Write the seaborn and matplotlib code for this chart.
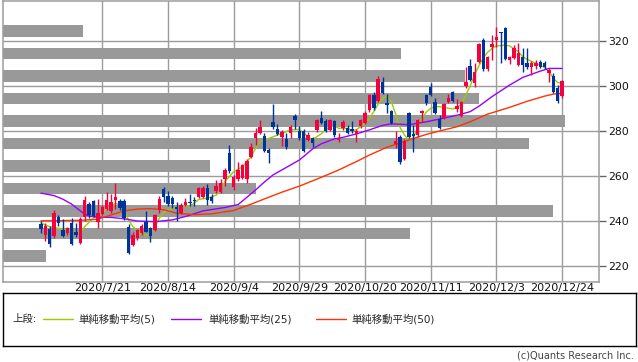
import numpy as np
import pandas as pd
import matplotlib
matplotlib.use("Agg")
import matplotlib.pyplot as plt
import seaborn as sns

# x-axis labels (trading day index -> date label)
tick_days = [14, 29, 44, 59, 74, 89, 104, 119]
tick_labels = ["2020/7/21", "2020/8/14", "2020/9/4", "2020/9/29",
               "2020/10/20", "2020/11/11", "2020/12/3", "2020/12/24"]

# daily candles, 2020/7/1 .. 2020/12/24 (120 trading days)
opens = [238.8, 233.8, 236.5, 233.5, 241.8, 236.0, 234.5, 239.0, 235.3, 230.4,
         241.8, 247.5, 248.9, 239.5, 243.0, 245.5, 244.5, 249.3, 248.8, 249.0,
         237.5, 229.5, 232.3, 234.8, 239.7, 236.8, 236.0, 245.0, 254.3, 251.0,
         250.4, 246.2, 243.7, 247.1, 248.3, 249.3, 250.8, 250.8, 254.5, 250.8,
         253.3, 253.0, 258.5, 270.4, 255.3, 258.5, 259.0, 258.5, 268.6, 276.7,
         279.3, 277.8, 271.6, 284.1, 280.7, 277.5, 276.3, 279.3, 286.7, 280.0,
         280.0, 276.0, 276.7, 280.4, 285.6, 284.6, 280.4, 284.6, 276.0, 281.2,
         281.2, 280.8, 278.7, 282.2, 283.4, 289.3, 296.0, 293.5, 301.7, 292.3,
         288.9, 274.1, 277.5, 267.6, 287.9, 278.5, 278.0, 288.0, 296.0, 299.7,
         293.0, 285.3, 285.9, 293.0, 297.2, 289.8, 286.8, 300.0, 308.8, 301.2,
         310.8, 320.4, 307.4, 317.2, 320.4, 323.9, 325.6, 311.5, 312.3, 309.5,
         313.0, 310.1, 308.6, 308.9, 310.8, 310.4, 305.6, 304.4, 299.0, 295.6]
highs = [239.8, 239.0, 238.0, 245.0, 242.8, 241.0, 237.5, 241.5, 239.0, 241.6,
         251.0, 248.5, 249.5, 250.0, 247.0, 253.0, 252.0, 257.0, 250.0, 249.8,
         238.5, 235.0, 236.5, 238.5, 244.5, 237.5, 243.0, 251.0, 255.0, 253.5,
         251.0, 248.6, 247.8, 250.2, 252.0, 250.5, 255.0, 255.5, 256.5, 252.0,
         258.2, 258.5, 263.5, 273.8, 260.5, 266.4, 265.5, 267.5, 274.5, 281.2,
         284.9, 279.0, 272.5, 292.0, 283.0, 280.5, 279.0, 282.5, 287.5, 282.0,
         281.0, 279.5, 277.5, 285.5, 289.0, 285.5, 285.5, 285.0, 279.0, 285.0,
         282.5, 284.5, 281.0, 285.5, 289.0, 296.5, 297.5, 304.5, 304.0, 296.3,
         289.5, 280.0, 278.0, 276.5, 288.5, 282.7, 285.5, 289.5, 296.5, 301.2,
         294.5, 287.1, 292.5, 296.3, 297.8, 294.2, 293.2, 308.6, 312.2, 310.1,
         319.0, 321.2, 313.5, 322.7, 326.4, 324.0, 326.4, 313.5, 318.2, 319.0,
         316.7, 316.7, 311.0, 311.5, 311.5, 311.0, 307.8, 305.6, 300.5, 302.7]
lows = [234.6, 231.0, 228.5, 232.5, 237.8, 233.0, 234.0, 229.3, 233.0, 230.0,
        240.0, 241.5, 241.8, 237.0, 242.5, 245.0, 243.5, 245.5, 245.0, 240.5,
        225.3, 229.0, 231.5, 234.0, 235.0, 230.8, 235.5, 243.5, 248.5, 246.5,
        246.0, 239.8, 243.0, 246.5, 246.5, 246.5, 250.3, 250.3, 247.0, 248.0,
        252.5, 252.5, 255.5, 261.5, 254.0, 258.0, 258.5, 257.0, 268.0, 273.8,
        278.5, 270.5, 265.6, 281.0, 278.0, 273.5, 272.0, 277.0, 281.0, 276.0,
        270.5, 275.5, 273.0, 279.5, 283.0, 279.5, 280.0, 277.5, 275.3, 280.5,
        278.5, 279.0, 275.3, 281.5, 283.0, 288.5, 289.5, 293.0, 296.5, 288.0,
        283.0, 272.3, 265.2, 267.0, 277.0, 270.8, 277.5, 284.2, 291.5, 295.5,
        287.5, 281.0, 285.5, 292.5, 292.8, 288.6, 286.3, 299.0, 302.0, 299.7,
        310.2, 306.8, 306.5, 311.5, 317.5, 310.0, 311.5, 309.8, 311.8, 309.0,
        306.4, 307.5, 305.0, 307.5, 308.0, 307.5, 301.9, 296.7, 292.3, 294.8]
closes = [236.5, 237.7, 229.6, 243.6, 239.3, 233.5, 236.7, 229.8, 233.6, 240.8,
          249.5, 242.5, 242.2, 243.5, 246.3, 249.2, 248.5, 250.8, 246.0, 241.5,
          226.0, 233.8, 236.0, 237.8, 235.3, 233.3, 242.7, 250.0, 250.5, 247.5,
          247.6, 245.3, 247.1, 248.6, 247.8, 249.0, 254.5, 254.5, 249.3, 248.9,
          255.6, 256.7, 262.7, 262.4, 259.7, 262.7, 264.9, 266.7, 273.0, 279.0,
          281.9, 271.2, 270.4, 281.6, 278.5, 279.7, 272.7, 281.9, 285.0, 276.7,
          271.3, 278.0, 274.8, 284.9, 283.7, 280.2, 284.9, 278.2, 276.6, 284.1,
          279.0, 280.2, 280.2, 284.9, 288.2, 296.0, 290.1, 303.0, 297.1, 291.5,
          283.4, 275.6, 266.4, 275.6, 277.5, 277.8, 284.9, 289.0, 292.3, 296.0,
          287.9, 281.5, 291.9, 294.8, 293.3, 291.3, 292.8, 301.8, 302.5, 306.4,
          318.7, 307.4, 312.7, 318.7, 321.9, 323.5, 311.8, 312.7, 316.7, 314.5,
          309.3, 308.6, 310.0, 310.1, 308.6, 308.6, 307.1, 297.5, 293.5, 302.0]

# moving averages (day index, value)
sma5_days = [0, 2, 5, 7, 8, 9, 10, 11, 12, 14, 15, 17, 18, 19, 20, 21, 23, 24, 25,
             26, 27, 28, 29, 30, 32, 34, 35, 36, 38, 40, 41, 42, 43, 44, 46, 48, 49,
             50, 52, 54, 56, 57, 59, 60, 62, 63, 64, 65, 66, 67, 68, 70, 71, 72, 73,
             74, 75, 76, 77, 78, 79, 80, 81, 82, 83, 84, 85, 86, 87, 88, 89, 90, 91,
             93, 94, 95, 96, 97, 98, 99, 100, 101, 102, 103, 104, 106, 107, 108, 109,
             110, 111, 113, 115, 116, 117, 118, 119]
sma5_vals = [239.0, 237.5, 236.4, 235.8, 234.6, 234.8, 237.5, 239.5, 241.5, 243.4,
             245.6, 247.8, 247.1, 245.0, 240.4, 237.5, 234.0, 233.8, 234.5, 237.5,
             241.2, 243.7, 244.9, 245.6, 246.7, 246.7, 247.9, 249.6, 250.1, 251.5,
             253.8, 257.5, 259.7, 261.9, 264.1, 268.6, 272.3, 275.3, 276.7, 278.2,
             279.7, 280.5, 280.7, 279.0, 276.0, 277.5, 278.7, 280.5, 282.0, 282.2,
             281.2, 281.2, 280.2, 280.5, 282.0, 283.4, 285.6, 288.6, 292.0, 294.5,
             295.7, 293.0, 287.5, 281.5, 278.2, 276.0, 277.0, 281.2, 285.5, 288.5,
             290.1, 290.8, 290.8, 290.1, 289.8, 290.5, 292.0, 296.0, 300.0, 305.0,
             309.0, 312.5, 315.0, 316.7, 317.8, 318.2, 317.8, 316.5, 315.3, 313.0,
             311.8, 310.1, 308.2, 306.5, 303.4, 301.5, 301.2]
sma25_days = [0, 3, 5, 7, 8, 9, 10, 11, 13, 16, 19, 22, 26, 30, 33, 37, 42, 45, 47,
              49, 51, 53, 56, 59, 62, 64, 67, 69, 72, 75, 78, 80, 84, 88, 91, 95, 98,
              100, 103, 107, 110, 114, 116, 119]
sma25_vals = [252.4, 251.3, 249.7, 247.5, 246.0, 244.5, 243.0, 242.2, 241.7, 241.6,
              241.0, 240.0, 239.7, 240.5, 242.0, 244.5, 246.0, 247.3, 250.5, 253.8,
              257.3, 260.5, 263.8, 267.1, 272.0, 274.3, 276.5, 277.2, 278.7, 280.5,
              282.5, 283.2, 282.8, 284.1, 285.3, 287.0, 288.6, 291.0, 295.3, 300.4,
              303.8, 306.6, 307.8, 307.8]
sma50_days = [0, 5, 9, 13, 16, 19, 22, 25, 28, 31, 35, 39, 44, 48, 51, 55, 59, 64,
              68, 72, 75, 79, 84, 88, 91, 95, 98, 102, 107, 111, 115, 117, 119]
sma50_vals = [240.1, 240.2, 240.3, 240.8, 242.7, 244.5, 245.3, 245.5, 245.0, 243.5,
              242.8, 243.2, 244.7, 247.5, 249.8, 252.8, 255.5, 259.4, 262.7, 266.4,
              269.3, 272.8, 276.0, 278.5, 280.0, 281.9, 284.1, 287.5, 290.5, 293.2,
              295.5, 296.4, 296.7]

# volume-by-price bars: bin centre price, bar length in % of plot width
vp_prices = [224.5, 234.5, 244.5, 254.5, 264.5, 274.5, 284.5, 294.5, 304.5, 314.5, 324.5]
vp_share = [7.1, 68.4, 92.4, 42.5, 34.8, 88.4, 94.3, 80.0, 77.6, 66.9, 13.4]

ma_labels = ["単純移動平均(5)", "単純移動平均(25)", "単純移動平均(50)"]

UP, DOWN = "#f5003c", "#003399"
MA_COLORS = ["#99cc00", "#9900ff", "#ff3300"]
GRID = "#9c9c9c"

sns.set_theme(style="white")
plt.rcParams["font.family"] = ["DejaVu Sans", "Noto Sans CJK JP"]

W, H = 638, 362
fig = plt.figure(figsize=(W / 100, H / 100), dpi=100)
ax = fig.add_axes([3.3 / W, 1 - 282 / H, 595.2 / W, 281.3 / H])
x0, x1 = -8.6, 127.3
ax.set_xlim(x0, x1)
ax.set_ylim(212.9, 337.9)

# grid below everything
for d in tick_days:
    ax.axvline(d, color=GRID, lw=1.0, zorder=0.5)
for v in range(220, 340, 20):
    ax.axhline(v, color=GRID, lw=1.0, zorder=0.5)

# volume profile
ax.barh(vp_prices, np.array(vp_share) / 100 * (x1 - x0), left=x0, height=5.2,
        color="#999999", linewidth=0, zorder=1)

# moving averages
for (dx, dy), col in zip([(sma5_days, sma5_vals), (sma25_days, sma25_vals),
                          (sma50_days, sma50_vals)], MA_COLORS):
    sns.lineplot(x=dx, y=dy, ax=ax, color=col, lw=1, legend=False, zorder=2)

# candles
o, h, l, c = map(np.array, (opens, highs, lows, closes))
days = np.arange(len(c))
cols = np.where(c >= o, UP, DOWN)
ax.vlines(days, l, h, colors=cols, lw=1, zorder=3)
ax.bar(days, np.maximum(np.abs(c - o), 0.45), bottom=np.minimum(o, c), width=0.78,
       color=cols, linewidth=0, zorder=4)

ax.set_xticks(tick_days, tick_labels)
ax.yaxis.tick_right()
ax.set_yticks(range(220, 340, 20))
ax.tick_params(axis="x", length=0, pad=0.5, labelsize=8, colors="#111111")
ax.tick_params(axis="y", length=5, width=1, pad=2, labelsize=7.8, color="#666666",
               labelcolor="#111111")
ax.set_xlabel("")
ax.set_ylabel("")
for sp in ax.spines.values():
    sp.set_color(GRID)
    sp.set_linewidth(1.1)

# legend box
lax = fig.add_axes([3 / W, 1 - 346 / H, 633 / W, 53 / H])
lax.set_xlim(0, 633)
lax.set_ylim(53, 0)
lax.set_xticks([])
lax.set_yticks([])
for sp in lax.spines.values():
    sp.set_color("black")
    sp.set_linewidth(1)
ly = 26
lax.text(9, ly, "上段:", va="center", ha="left", fontsize=7.5)
for (lx, tx), col, lab in zip([(40, 75), (168, 205), (313, 348)], MA_COLORS, ma_labels):
    lax.plot([lx, lx + 30], [ly, ly], color=col, lw=1)
    lax.text(tx, ly, lab, va="center", ha="left", fontsize=7.5)

fig.text(634 / W, 1 - 356 / H, "(c)Quants Research Inc.", ha="right", va="center",
         fontsize=7, color="#444444")

fig.savefig("out.png", dpi=100)
